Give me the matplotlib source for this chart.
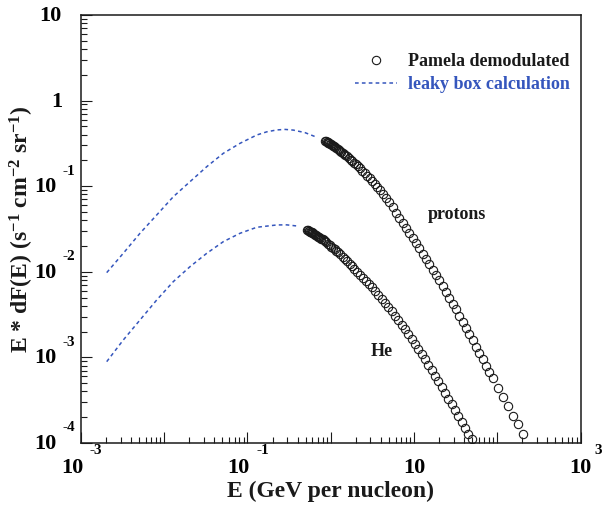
"""Demodulated Pamela proton / helium spectra vs leaky box calculation."""

import matplotlib

matplotlib.use("Agg")
import matplotlib.pyplot as plt
import numpy as np
from matplotlib.lines import Line2D
from matplotlib.ticker import LogLocator, NullFormatter

plt.rcParams["font.family"] = "Liberation Serif"
plt.rcParams["font.weight"] = "bold"
plt.rcParams["axes.labelweight"] = "bold"
plt.rcParams["mathtext.fontset"] = "custom"
plt.rcParams["mathtext.rm"] = "Liberation Serif:bold"
plt.rcParams["mathtext.it"] = "Liberation Serif:bold"
plt.rcParams["mathtext.bf"] = "Liberation Serif:bold"

BLUE = "#3556bd"
INK = "#1a1a1a"

# log10 E (GeV/n) and log10 E*dF(E)
proton_log_e = [
    -0.067, -0.057, -0.047, -0.037, -0.027, -0.017, -0.007, 0.003, 0.013, 0.023,
    0.038, 0.053, 0.068, 0.083, 0.098, 0.113, 0.128, 0.143, 0.158, 0.173,
    0.195, 0.217, 0.239, 0.261, 0.283, 0.305, 0.327, 0.349, 0.379, 0.409,
    0.439, 0.469, 0.499, 0.529, 0.559, 0.589, 0.625, 0.665, 0.705, 0.745,
    0.785, 0.825, 0.865, 0.905, 0.945, 0.985, 1.025, 1.065, 1.105, 1.145,
    1.185, 1.225, 1.265, 1.305, 1.345, 1.385, 1.425, 1.465, 1.505, 1.545,
    1.585, 1.625, 1.665, 1.705, 1.745, 1.785, 1.825, 1.865, 1.905, 1.945,
    2.009, 2.069, 2.129, 2.189, 2.244, 2.309,
]
proton_log_f = [
    -0.467, -0.473, -0.480, -0.486, -0.493, -0.499, -0.505, -0.512, -0.518, -0.525,
    -0.534, -0.544, -0.554, -0.564, -0.574, -0.586, -0.598, -0.610, -0.623, -0.635,
    -0.653, -0.672, -0.690, -0.708, -0.726, -0.745, -0.767, -0.789, -0.819, -0.849,
    -0.879, -0.909, -0.939, -0.975, -1.011, -1.047, -1.090, -1.138, -1.188, -1.248,
    -1.308, -1.368, -1.428, -1.488, -1.548, -1.608, -1.668, -1.728, -1.788, -1.850,
    -1.912, -1.974, -2.036, -2.099, -2.167, -2.235, -2.303, -2.371, -2.439, -2.511,
    -2.583, -2.655, -2.727, -2.799, -2.873, -2.947, -3.021, -3.095, -3.169, -3.241,
    -3.356, -3.464, -3.572, -3.680, -3.779, -3.896,
]

he_log_e = [
    -0.284, -0.275, -0.266, -0.257, -0.248, -0.239, -0.230, -0.221, -0.212, -0.203,
    -0.190, -0.177, -0.164, -0.151, -0.138, -0.125, -0.112, -0.099, -0.086, -0.073,
    -0.053, -0.033, -0.013, 0.007, 0.027, 0.047, 0.067, 0.087, 0.115, 0.143,
    0.171, 0.199, 0.227, 0.255, 0.283, 0.318, 0.353, 0.388, 0.423, 0.458,
    0.493, 0.533, 0.573, 0.613, 0.653, 0.693, 0.733, 0.773, 0.813, 0.853,
    0.893, 0.933, 0.973, 1.013, 1.053, 1.093, 1.133, 1.173, 1.213, 1.253,
    1.293, 1.333, 1.373, 1.413, 1.453, 1.493, 1.533, 1.573, 1.613, 1.653,
    1.693,
]
he_log_f = [
    -1.508, -1.513, -1.519, -1.524, -1.530, -1.535, -1.541, -1.546, -1.552, -1.557,
    -1.565, -1.573, -1.581, -1.589, -1.597, -1.605, -1.613, -1.621, -1.631, -1.642,
    -1.658, -1.674, -1.690, -1.706, -1.722, -1.738, -1.754, -1.770, -1.795, -1.823,
    -1.851, -1.879, -1.907, -1.935, -1.963, -1.999, -2.036, -2.072, -2.109, -2.146,
    -2.183, -2.228, -2.274, -2.320, -2.366, -2.412, -2.463, -2.515, -2.567, -2.619,
    -2.671, -2.728, -2.786, -2.844, -2.902, -2.960, -3.023, -3.087, -3.151, -3.215,
    -3.279, -3.346, -3.414, -3.482, -3.550, -3.618, -3.686, -3.754, -3.822, -3.890,
    -3.958,
]

proton_model_log_e = [-2.691, -2.492, -2.291, -2.090, -1.891, -1.690, -1.489, -1.290,
                      -1.089, -0.888, -0.768, -0.648, -0.548, -0.448, -0.308, -0.167]
proton_model_log_f = [-2.010, -1.784, -1.550, -1.336, -1.123, -0.947, -0.772, -0.616,
                      -0.499, -0.402, -0.365, -0.343, -0.337, -0.345, -0.375, -0.429]
he_model_log_e = [-2.691, -2.492, -2.291, -2.090, -1.891, -1.690, -1.489, -1.290,
                  -1.089, -0.888, -0.648, -0.528, -0.407]
he_model_log_f = [-3.050, -2.797, -2.563, -2.329, -2.115, -1.940, -1.784, -1.648,
                  -1.550, -1.480, -1.453, -1.452, -1.465]

# tick labels: (decade, base, exponent)
x_labels = [(-3, "10", "-3"), (-1, "10", "-1"), (1, "10", ""), (3, "10", "3")]
y_labels = [(1, "10", ""), (0, "1", ""), (-1, "10", "-1"), (-2, "10", "-2"),
            (-3, "10", "-3"), (-4, "10", "-4")]

fig = plt.figure(figsize=(6.03, 5.09), dpi=100)
ax = fig.add_axes([0.1343, 0.1297, 0.8284, 0.8409])
ax.set_xscale("log")
ax.set_yscale("log")
ax.set_xlim(1e-3, 1e3)
ax.set_ylim(1e-4, 10)

dash = dict(color=BLUE, lw=1.1, dashes=(2.4, 2.1))
ax.plot(np.power(10.0, proton_model_log_e), np.power(10.0, proton_model_log_f), **dash)
ax.plot(np.power(10.0, he_model_log_e), np.power(10.0, he_model_log_f), **dash)

circ = dict(ls="none", marker="o", mfc="none", mec=INK, ms=6, mew=0.8)
ax.plot(np.power(10.0, proton_log_e), np.power(10.0, proton_log_f), **circ)
ax.plot(np.power(10.0, he_log_e), np.power(10.0, he_log_f), **circ)

ax.text(14.8, 0.0473, "protons", fontsize=13, color=INK, ha="left", va="center")
ax.text(2.98, 1.156e-3, "He", fontsize=13, color=INK, ha="left", va="center")

handles = [Line2D([], [], **circ), Line2D([], [], **dash)]
leg = ax.legend(handles, ["Pamela demodulated", "leaky box calculation"],
                loc="upper left", bbox_to_anchor=(0.549, 0.911), frameon=False,
                prop={"size": 13, "weight": "bold"}, handlelength=2.3,
                handletextpad=0.6, labelspacing=0.35, borderpad=0, borderaxespad=0)
leg.get_texts()[0].set_color(INK)
leg.get_texts()[1].set_color(BLUE)

# ROOT-like axes: inward ticks, bottom/left only
for axis in (ax.xaxis, ax.yaxis):
    axis.set_major_locator(LogLocator(base=10, numticks=20))
    axis.set_minor_locator(LogLocator(base=10, subs=np.arange(2, 10), numticks=20))
    axis.set_major_formatter(NullFormatter())
    axis.set_minor_formatter(NullFormatter())
ax.tick_params(which="both", direction="in", top=False, right=False, width=0.8, color=INK)
ax.tick_params(which="major", length=8)
ax.tick_params(which="minor", length=4.3)
for s in ax.spines.values():
    s.set_linewidth(1.1)
    s.set_color(INK)

for dec, base, exp in x_labels:
    neg = exp.startswith("-")
    shift = -9 if neg else 0
    ax.annotate(base, xy=(10.0 ** dec, 0), xycoords=("data", "axes fraction"),
                xytext=(shift, -25), textcoords="offset pixels", ha="center", va="center",
                fontsize=16, annotation_clip=False)
    if exp:
        ax.annotate(exp, xy=(10.0 ** dec, 0), xycoords=("data", "axes fraction"),
                    xytext=(9 if neg else 14, -8), textcoords="offset pixels", ha="left",
                    va="center", fontsize=11, annotation_clip=False)

for dec, base, exp in y_labels:
    if exp:
        ax.annotate(base, xy=(0, 10.0 ** dec), xycoords=("axes fraction", "data"),
                    xytext=(-24, -1), textcoords="offset pixels", ha="right", va="center",
                    fontsize=16, annotation_clip=False)
        ax.annotate(exp, xy=(0, 10.0 ** dec), xycoords=("axes fraction", "data"),
                    xytext=(-18, 15), textcoords="offset pixels", ha="left", va="center",
                    fontsize=11, annotation_clip=False)
    else:
        ax.annotate(base, xy=(0, 10.0 ** dec), xycoords=("axes fraction", "data"),
                    xytext=(-19, -1), textcoords="offset pixels", ha="right", va="center",
                    fontsize=16, annotation_clip=False)

ax.set_xlabel("E (GeV per nucleon)", fontsize=17, fontweight="bold", color=INK)
ax.xaxis.set_label_coords(0.5, -0.089)
ax.set_ylabel(r"E * dF(E) (s$^{-1}$ cm$^{-2}$ sr$^{-1}$)", fontsize=17,
              fontweight="bold", color=INK)
ax.yaxis.set_label_coords(-0.090, 0.5)

fig.savefig("out.png", dpi=100)
